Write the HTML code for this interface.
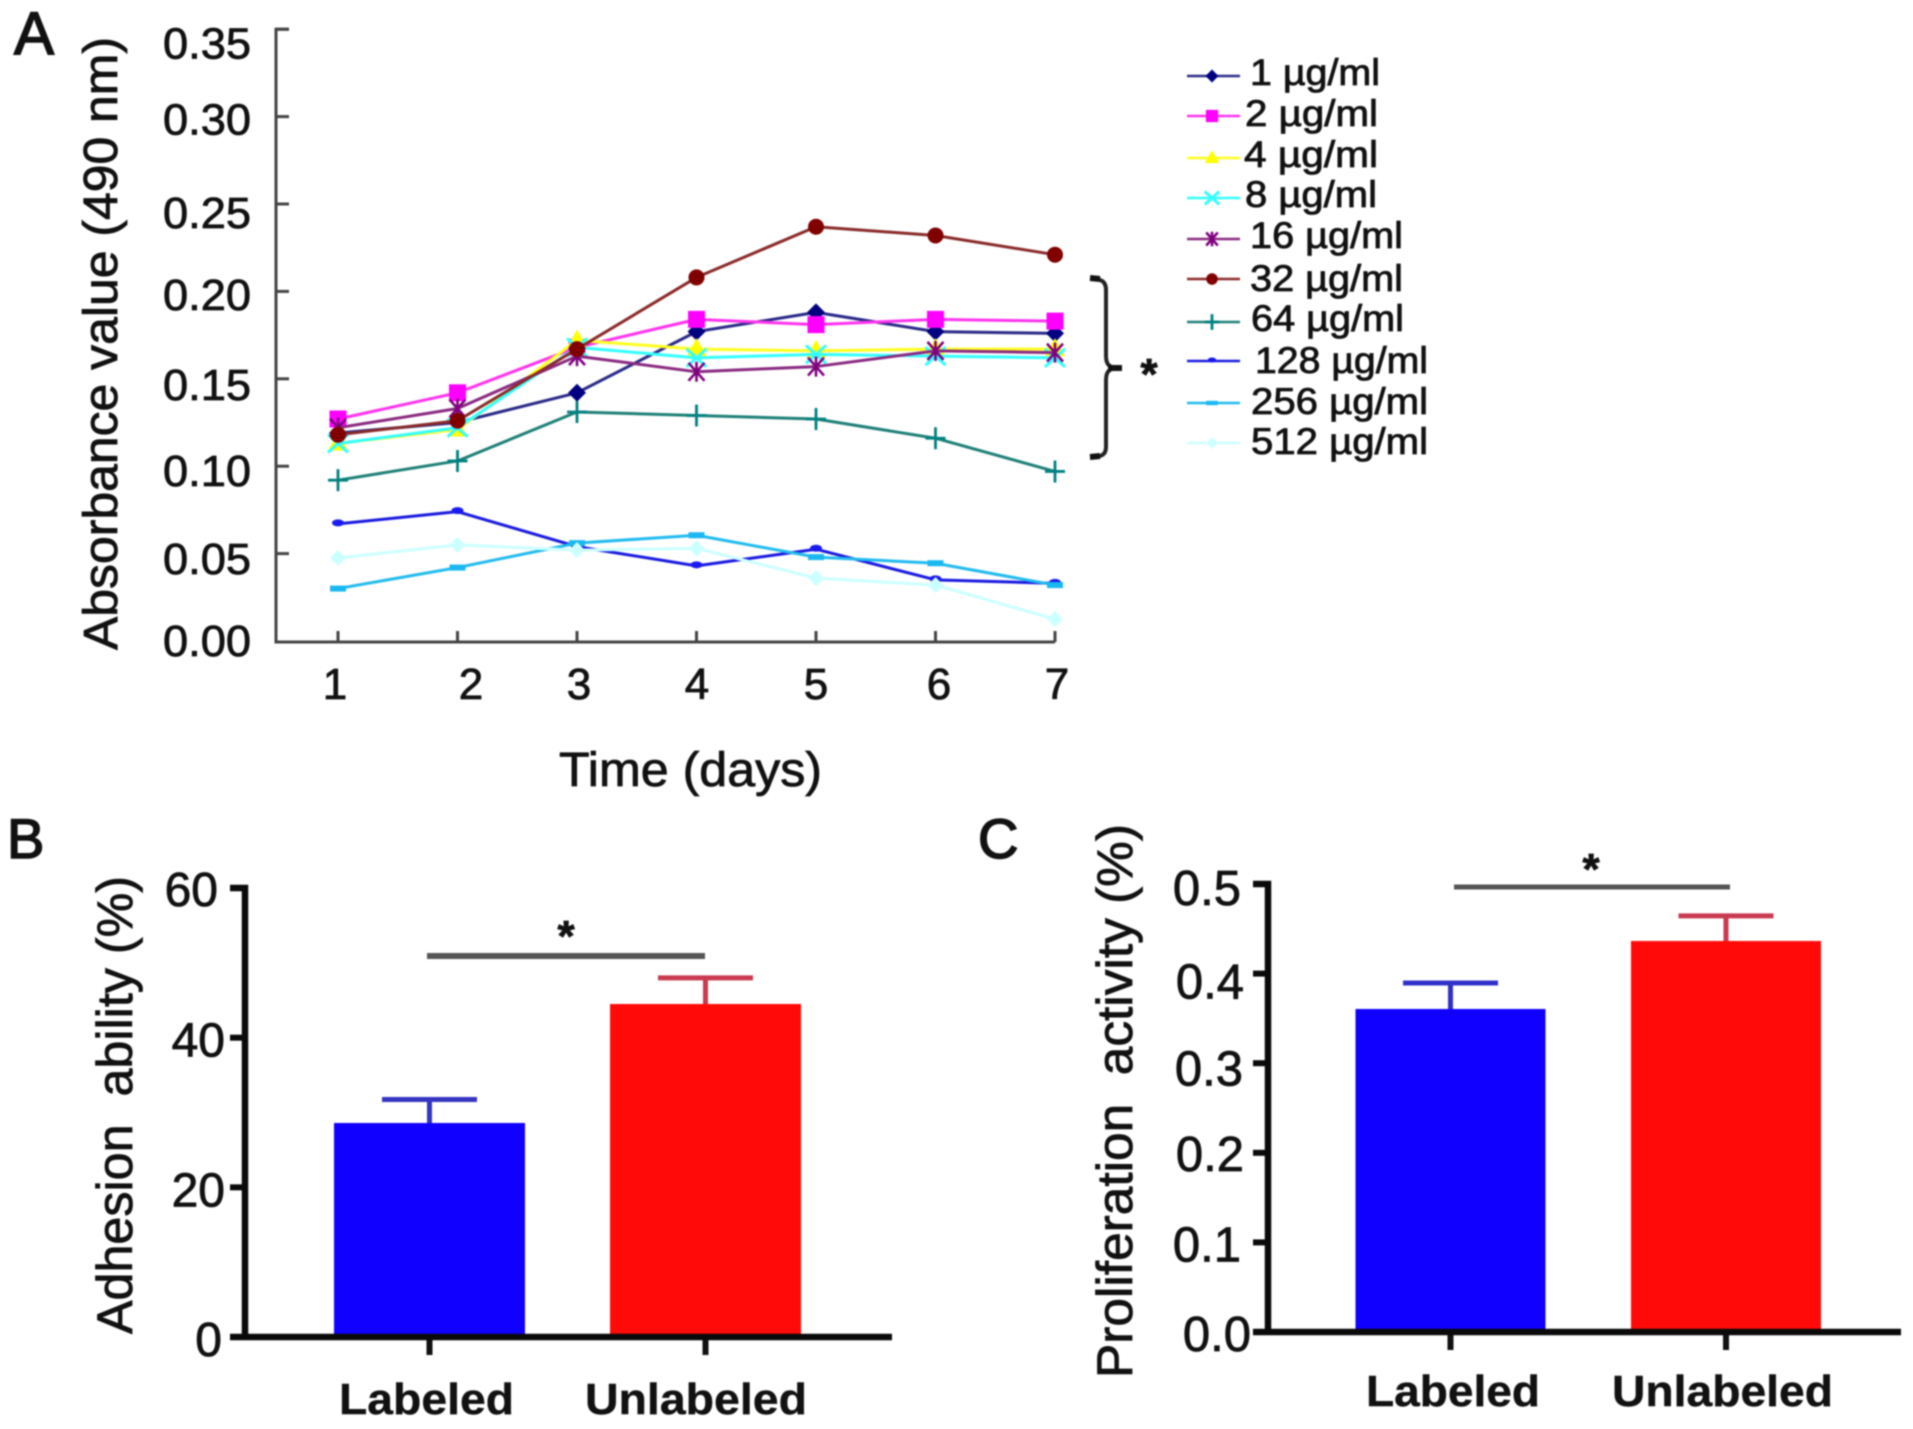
<!DOCTYPE html>
<html lang="en">
<head>
<meta charset="utf-8">
<title>Absorbance, adhesion and proliferation charts</title>
<style>
html,body{margin:0;padding:0;background:#fff;}
body{width:1913px;height:1429px;overflow:hidden;}
#figure{display:block;filter:blur(0.8px);}
text{font-family:"Liberation Sans",sans-serif;fill:#111;stroke:#111;stroke-width:0.8px;}
</style>
</head>
<body>
<svg id="figure" xmlns="http://www.w3.org/2000/svg" width="1913" height="1429" viewBox="0 0 1913 1429">
  <rect x="0" y="0" width="1913" height="1429" fill="#fff"/>
  <g id="panelA"></g>
  <g id="panelB"></g>
  <g id="panelC"></g>
</svg>
<script>
// ---- Panel A data ----
const days = [1, 2, 3, 4, 5, 6, 7];
const absorbanceTicks = [0, 0.05, 0.10, 0.15, 0.20, 0.25, 0.30, 0.35];
const absorbanceTickLabels = ['0.00', '0.05', '0.10', '0.15', '0.20', '0.25', '0.30', '0.35'];
const seriesNames = ['1 µg/ml', '2 µg/ml', '4 µg/ml', '8 µg/ml', '16 µg/ml', '32 µg/ml', '64 µg/ml', '128 µg/ml', '256 µg/ml', '512 µg/ml'];
const conc1 = [0.119, 0.125, 0.142, 0.177, 0.188, 0.177, 0.176];
const conc2 = [0.127, 0.142, 0.168, 0.184, 0.181, 0.184, 0.183];
const conc4 = [0.113, 0.121, 0.172, 0.167, 0.166, 0.167, 0.167];
const conc8 = [0.113, 0.122, 0.168, 0.162, 0.164, 0.163, 0.162];
const conc16 = [0.122, 0.133, 0.163, 0.154, 0.157, 0.166, 0.165];
const conc32 = [0.118, 0.126, 0.167, 0.208, 0.237, 0.232, 0.221];
const conc64 = [0.092, 0.103, 0.131, 0.129, 0.127, 0.116, 0.097];
const conc128 = [0.067, 0.074, 0.054, 0.043, 0.0525, 0.035, 0.033];
const conc256 = [0.030, 0.042, 0.056, 0.0605, 0.048, 0.0445, 0.032];
const conc512 = [0.0475, 0.055, 0.052, 0.053, 0.036, 0.032, 0.0125];

// ---- Panel B data ----
const barCategories = ['Labeled', 'Unlabeled'];
const adhesionTicks = [0, 20, 40, 60];
const adhesionTickLabels = ['0', '20', '40', '60'];
const adhesionMeans = [28.6, 44.5];
const adhesionErrors = [3.14, 3.5];

// ---- Panel C data ----
const proliferationTicks = [0, 0.1, 0.2, 0.3, 0.4, 0.5];
const proliferationTickLabels = ['0.0', '0.1', '0.2', '0.3', '0.4', '0.5'];
const proliferationMeans = [0.3605, 0.4364];
const proliferationErrors = [0.029, 0.028];

const SVG_NS = 'http://www.w3.org/2000/svg';
function node(parent, tag, attrs) {
  const el = document.createElementNS(SVG_NS, tag);
  for (const k in attrs) el.setAttribute(k, attrs[k]);
  parent.appendChild(el);
  return el;
}
function textNode(parent, content, attrs) {
  const el = node(parent, 'text', attrs);
  el.textContent = content;
  return el;
}

// ---- Panel A axis functions ----
const xDay = d => 338 + (d - 1) * 119.5;
const yAbs = v => 641 - 1748 * v;

function drawMarker(parent, kind, cx, cy, s, color) {
  const g = node(parent, 'g', {});
  if (kind === 'diamond') {
    node(g, 'path', {d: `M${cx} ${cy - 9 * s}L${cx + 9 * s} ${cy}L${cx} ${cy + 9 * s}L${cx - 9 * s} ${cy}Z`, fill: color});
  } else if (kind === 'square') {
    node(g, 'rect', {x: cx - 8.5 * s, y: cy - 8.5 * s, width: 17 * s, height: 17 * s, fill: color});
  } else if (kind === 'triangle') {
    node(g, 'path', {d: `M${cx} ${cy - 11 * s}L${cx + 10 * s} ${cy + 7 * s}L${cx - 10 * s} ${cy + 7 * s}Z`, fill: color});
  } else if (kind === 'cross') {
    node(g, 'path', {d: `M${cx - 10 * s} ${cy - 9 * s}L${cx + 10 * s} ${cy + 9 * s}M${cx - 10 * s} ${cy + 9 * s}L${cx + 10 * s} ${cy - 9 * s}`, stroke: color, 'stroke-width': 3, fill: 'none'});
  } else if (kind === 'star') {
    node(g, 'path', {d: `M${cx - 8 * s} ${cy - 9 * s}L${cx + 8 * s} ${cy + 9 * s}M${cx - 8 * s} ${cy + 9 * s}L${cx + 8 * s} ${cy - 9 * s}M${cx} ${cy - 10 * s}L${cx} ${cy + 10 * s}`, stroke: color, 'stroke-width': 2.6, fill: 'none'});
  } else if (kind === 'circle') {
    node(g, 'circle', {cx: cx, cy: cy, r: 8 * s, fill: color});
  } else if (kind === 'plus') {
    node(g, 'path', {d: `M${cx} ${cy - 11 * s}L${cx} ${cy + 11 * s}M${cx - 10 * s} ${cy}L${cx + 10 * s} ${cy}`, stroke: color, 'stroke-width': 2.8, fill: 'none'});
  } else if (kind === 'bump') {
    node(g, 'ellipse', {cx: cx, cy: cy - 1, rx: 6 * s, ry: 3.5 * s, fill: color});
  } else if (kind === 'dash') {
    node(g, 'rect', {x: cx - 8 * s, y: cy - 3 * s, width: 16 * s, height: 6 * s, fill: color});
  } else if (kind === 'pale') {
    node(g, 'path', {d: `M${cx} ${cy - 8 * s}L${cx + 8 * s} ${cy}L${cx} ${cy + 8 * s}L${cx - 8 * s} ${cy}Z`, fill: color});
  }
  return g;
}

function drawPanelA() {
  const root = document.getElementById('panelA');
  const seriesValues = [conc1, conc2, conc4, conc8, conc16, conc32, conc64, conc128, conc256, conc512];
  const colors = ['#000080', '#ff00ff', '#ffff00', '#33ffff', '#800080', '#800000', '#008080', '#1a1af0', '#1ab8f0', '#ccffff'];
  const lineColors = ['#2a2a88', '#ff33ee', '#ffff20', '#33ffff', '#8a2a80', '#8a2a2a', '#1f8078', '#1a1ae0', '#22bbee', '#ccffff'];
  const markers = ['diamond', 'square', 'triangle', 'cross', 'star', 'circle', 'plus', 'bump', 'dash', 'pale'];

  const letter = textNode(root, 'A', {x: 14, y: 54, 'font-size': 60, style: 'stroke-width:1.6px'});
  
  

  const yAxis = node(root, 'path', {d: `M289 ${yAbs(0.35)}L276 ${yAbs(0.35)}L276 ${yAbs(0) + 1}L${xDay(7)} ${yAbs(0) + 1}`, fill: 'none', stroke: '#444', 'stroke-width': 3});
  
  

  const labelDrop = [15, 20.5, 20, 21, 18.5, 24, 18, 29.5];
  absorbanceTicks.forEach((v, i) => {
    if (i > 0) {
      const t = node(root, 'line', {x1: 276, x2: 289, y1: yAbs(v), y2: yAbs(v), stroke: '#444', 'stroke-width': 3});
      
      
    }
    const l = textNode(root, absorbanceTickLabels[i], {x: 251, y: yAbs(v) + labelDrop[i], 'font-size': 44, 'text-anchor': 'end', textLength: 88, lengthAdjust: 'spacingAndGlyphs'});
    
    
  });

  const dayLabelX = [335, 471, 579, 697, 816, 939, 1057];
  days.forEach((d, i) => {
    const t = node(root, 'line', {x1: xDay(d), x2: xDay(d), y1: yAbs(0) - 10, y2: yAbs(0) + 1, stroke: '#444', 'stroke-width': 3});
    
    
    const l = textNode(root, String(d), {x: dayLabelX[i], y: 699, 'font-size': 44, 'text-anchor': 'middle'});
    
    
  });

  const yTitle = textNode(root, 'Absorbance value (490 nm)', {x: 0, y: 0, 'font-size': 48, textLength: 613, lengthAdjust: 'spacingAndGlyphs', transform: 'translate(117 650) rotate(-90)'});
  
  

  const xTitle = textNode(root, 'Time (days)', {x: 559, y: 786, 'font-size': 48, textLength: 263, lengthAdjust: 'spacingAndGlyphs'});
  
  

  seriesValues.forEach((vals, si) => {
    const g = node(root, 'g', {});
    
    
    const pts = vals.map((v, i) => xDay(days[i]) + ',' + yAbs(v)).join(' ');
    const line = node(g, 'polyline', {points: pts, fill: 'none', stroke: lineColors[si], 'stroke-width': 3, 'stroke-linejoin': 'round'});
    
    
    vals.forEach((v, i) => {
      const m = drawMarker(g, markers[si], xDay(days[i]), yAbs(v), 1, colors[si]);
      
      
    });
  });

  // significance bracket
  const bracket = node(root, 'path', {d: 'M1090 279C1100 279 1106 280 1106 290L1106 356C1106 366 1110 368 1122 368M1122 368C1110 368 1106 370 1106 380L1106 447C1106 456 1100 457 1090 457', fill: 'none', stroke: '#222', 'stroke-width': 4});
  
  
  const bracketEnds = node(root, 'path', {d: 'M1090 278L1100 279M1090 457L1100 456M1108 368L1122 368', fill: 'none', stroke: '#111', 'stroke-width': 6});
  
  
  const star = textNode(root, '*', {x: 1149, y: 389, 'font-size': 44, 'font-weight': 'bold', 'text-anchor': 'middle'});
  
  

  // legend
  const legendY = [76, 116, 158, 198, 239, 279, 322, 361, 403, 443];
  const labelBase = [85, 126, 167, 207, 248, 291, 331, 373, 414, 454];
  const labelStart = [1250, 1245, 1244, 1245, 1250, 1250, 1251, 1255, 1251, 1251];
  const labelEnd = [1380, 1378, 1378, 1377, 1403, 1403, 1404, 1428, 1428, 1428];
  seriesNames.forEach((name, i) => {
    const g = node(root, 'g', {});
    
    
    const ln = node(g, 'line', {x1: 1187, x2: 1240, y1: legendY[i], y2: legendY[i], stroke: lineColors[i], 'stroke-width': 2.6});
    
    
    const mk = drawMarker(g, markers[i], 1212, legendY[i], 0.72, colors[i]);
    
    
    const tx = textNode(g, name, {x: labelStart[i], y: labelBase[i], 'font-size': 37, textLength: labelEnd[i] - labelStart[i], lengthAdjust: 'spacingAndGlyphs'});
    
    
  });
}

function drawBarPanel(cfg) {
  const root = document.getElementById(cfg.id);
  const y = cfg.y;
  const x = cfg.x;

  const letter = textNode(root, cfg.letter, {x: cfg.letterX, y: 858, 'font-size': 56, style: 'stroke-width:1.6px'});
  
  

  cfg.means.forEach((m, i) => {
    const bar = node(root, 'rect', {x: x(i) - cfg.barWidth / 2, y: y(m), width: cfg.barWidth, height: y(0) - y(m), fill: cfg.colors[i]});
    
    
    const top = m + cfg.errors[i];
    const stem = node(root, 'line', {x1: x(i), x2: x(i), y1: y(m), y2: y(top), stroke: cfg.errColors[i], 'stroke-width': 5});
    
    
    const cap = node(root, 'line', {x1: x(i) - 47.5, x2: x(i) + 47.5, y1: y(top), y2: y(top), stroke: cfg.errColors[i], 'stroke-width': 5});
    
    
    const tick = node(root, 'line', {x1: x(i), x2: x(i), y1: y(0), y2: y(0) + 18, stroke: '#111', 'stroke-width': 6});
    
    
    const lab = textNode(root, barCategories[i], {x: cfg.catStart[i], y: cfg.catBase, 'font-size': 44, 'font-weight': 'bold', textLength: cfg.catLen[i], lengthAdjust: 'spacingAndGlyphs', style: 'stroke-width:0.4px'});
    
    
  });

  const axis = node(root, 'path', {d: `M${cfg.axisX - 15} ${y(cfg.ticks[cfg.ticks.length - 1])}L${cfg.axisX} ${y(cfg.ticks[cfg.ticks.length - 1])}L${cfg.axisX} ${y(0)}M${cfg.axisX - 15} ${y(0)}L${cfg.axisEnd} ${y(0)}`, fill: 'none', stroke: '#0a0a0a', 'stroke-width': 6.5});
  
  

  cfg.ticks.forEach((v, i) => {
    const t = node(root, 'line', {x1: cfg.axisX - 15, x2: cfg.axisX, y1: y(v), y2: y(v), stroke: '#0a0a0a', 'stroke-width': 6});
    
    
    const l = textNode(root, cfg.tickLabels[i], {x: cfg.labelRight[i], y: y(v) + cfg.labelDrop[i], 'font-size': cfg.labelSize, 'text-anchor': 'end'});
    
    
  });

  const title = textNode(root, cfg.title, {x: 0, y: 0, 'font-size': 50, textLength: cfg.titleLen, lengthAdjust: 'spacingAndGlyphs', transform: `translate(${cfg.titleX} ${cfg.titleY}) rotate(-90)`, style: 'white-space:pre'});
  
  

  const sig = node(root, 'line', {x1: cfg.sigX[0], x2: cfg.sigX[1], y1: cfg.sigY, y2: cfg.sigY, stroke: '#555', 'stroke-width': cfg.sigWidth});
  
  
  const star = textNode(root, '*', {x: cfg.starX, y: cfg.starY, 'font-size': 44, 'font-weight': 'bold', 'text-anchor': 'middle'});
  
  
}

drawPanelA();

drawBarPanel({
  id: 'panelB', letter: 'B', letterX: 7,
  means: adhesionMeans, errors: adhesionErrors,
  ticks: adhesionTicks, tickLabels: adhesionTickLabels,
  y: v => 1337 - 7.483 * v,
  x: i => 429.5 + i * 276,
  barWidth: 191,
  colors: ['#1000ff', '#ff0a08'], errColors: ['#3434c0', '#c93a50'],
  axisX: 245, axisEnd: 892,
  labelRight: [222, 225, 225, 218], labelDrop: [19, 19, 19, 18], labelSize: 48,
  catStart: [339, 585], catLen: [175, 222], catBase: 1414,
  title: 'Adhesion\u00a0\u00a0ability (%)', titleX: 132, titleY: 1334, titleLen: 458,
  sigX: [427, 705], sigY: 956, sigWidth: 6, starX: 566, starY: 951
});

drawBarPanel({
  id: 'panelC', letter: 'C', letterX: 978,
  means: proliferationMeans, errors: proliferationErrors,
  ticks: proliferationTicks, tickLabels: proliferationTickLabels,
  y: v => 1332 - 896 * v,
  x: i => 1450.5 + i * 275.5,
  barWidth: 190,
  colors: ['#1000ff', '#ff0a08'], errColors: ['#3030c8', '#c93a50'],
  axisX: 1268, axisEnd: 1901,
  labelRight: [1251, 1241, 1244, 1243, 1244, 1241], labelDrop: [19, 19, 18, 22.5, 25, 21], labelSize: 49,
  catStart: [1366, 1612], catLen: [174, 221], catBase: 1406,
  title: 'Proliferation\u00a0\u00a0activity (%)', titleX: 1132, titleY: 1378, titleLen: 554,
  sigX: [1454, 1730], sigY: 887, sigWidth: 5, starX: 1591, starY: 884
});
</script>
</body>
</html>
